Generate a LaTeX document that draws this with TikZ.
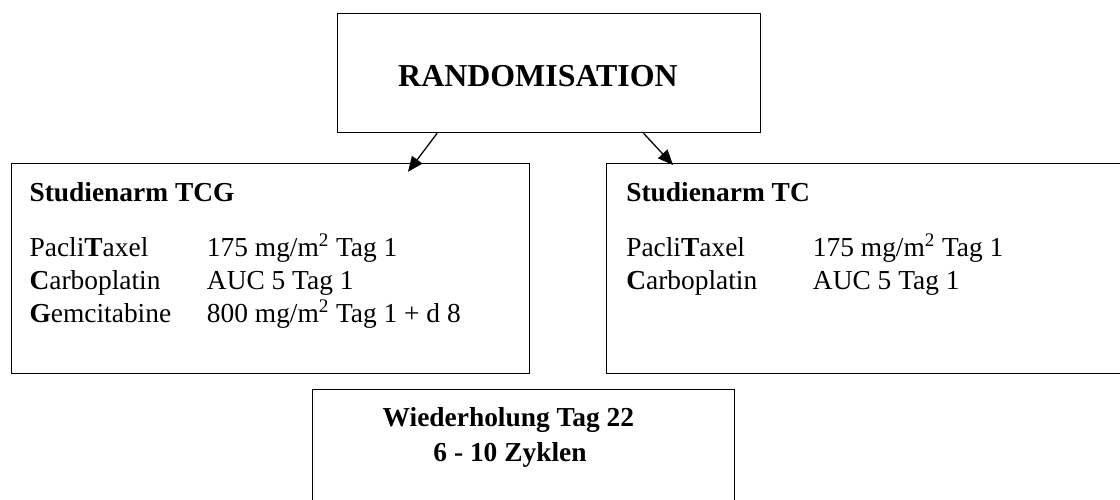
\documentclass[tikz,border=0pt]{standalone}
\usepackage{fontspec}
\setmainfont{Liberation Serif}
\usetikzlibrary{arrows.meta}
\tikzset{
  box/.style={draw, line width=0.9pt, rectangle, inner sep=0pt, anchor=north west},
  txt/.style={anchor=base west, inner sep=0pt, font=\fontsize{19.5}{23.5}\selectfont},
  ttl/.style={anchor=base west, inner sep=0pt, font=\fontsize{19.5}{23.5}\selectfont\bfseries},
  arr/.style={line width=0.9pt, -{Triangle[length=0.38cm,width=0.32cm]}}
}
\begin{document}
\begin{tikzpicture}[x=1cm,y=1cm]
\useasboundingbox (0,0) rectangle (28,12.5);

\node[box, minimum width=10.575cm, minimum height=2.975cm] (rand) at (8.425,12.175) {};
\node[box, minimum width=12.95cm, minimum height=5.25cm] (tcg) at (0.275,8.425) {};
\node[box, minimum width=12.9cm, minimum height=5.25cm] (tc) at (15.15,8.425) {};
\node[box, minimum width=10.55cm, minimum height=2.9cm] (wdh) at (7.8,2.775) {};

\node[ttl, anchor=base, font=\fontsize{22.7}{27}\selectfont\bfseries] (randtxt) at (13.45,10.325) {RANDOMISATION};

\node[ttl] (tcgtitle) at (0.733,7.457) {Studienarm TCG};
\node[txt] (tcgp) at (0.733,6.083) {Pacli\textbf{T}axel};
\node[txt] (tcgc) at (0.733,5.258) {\textbf{C}arboplatin};
\node[txt] (tcgg) at (0.733,4.433) {\textbf{G}emcitabine};
\node[txt] (tcgpd) at (5.167,6.083) {175 mg/m\textsuperscript{2} Tag 1};
\node[txt] (tcgcd) at (5.167,5.258) {AUC 5 Tag 1};
\node[txt] (tcggd) at (5.167,4.433) {800 mg/m\textsuperscript{2} Tag 1 + d 8};

\node[ttl] (tctitle) at (15.65,7.457) {Studienarm TC};
\node[txt] (tcp) at (15.65,6.083) {Pacli\textbf{T}axel};
\node[txt] (tcc) at (15.65,5.258) {\textbf{C}arboplatin};
\node[txt] (tcpd) at (20.317,6.083) {175 mg/m\textsuperscript{2} Tag 1};
\node[txt] (tccd) at (20.317,5.258) {AUC 5 Tag 1};

\node[ttl, anchor=base] (wdh1) at (12.71,1.833) {Wiederholung Tag 22};
\node[ttl, anchor=base] (wdh2) at (12.75,0.958) {6 - 10 Zyklen};

\draw[arr] ([xshift=-2.8cm]rand.south) -- ([xshift=9.925cm,yshift=-0.22cm]tcg.north west);
\draw[arr] ([xshift=2.36cm]rand.south) -- ([xshift=1.675cm,yshift=-0.05cm]tc.north west);
\end{tikzpicture}
\end{document}
